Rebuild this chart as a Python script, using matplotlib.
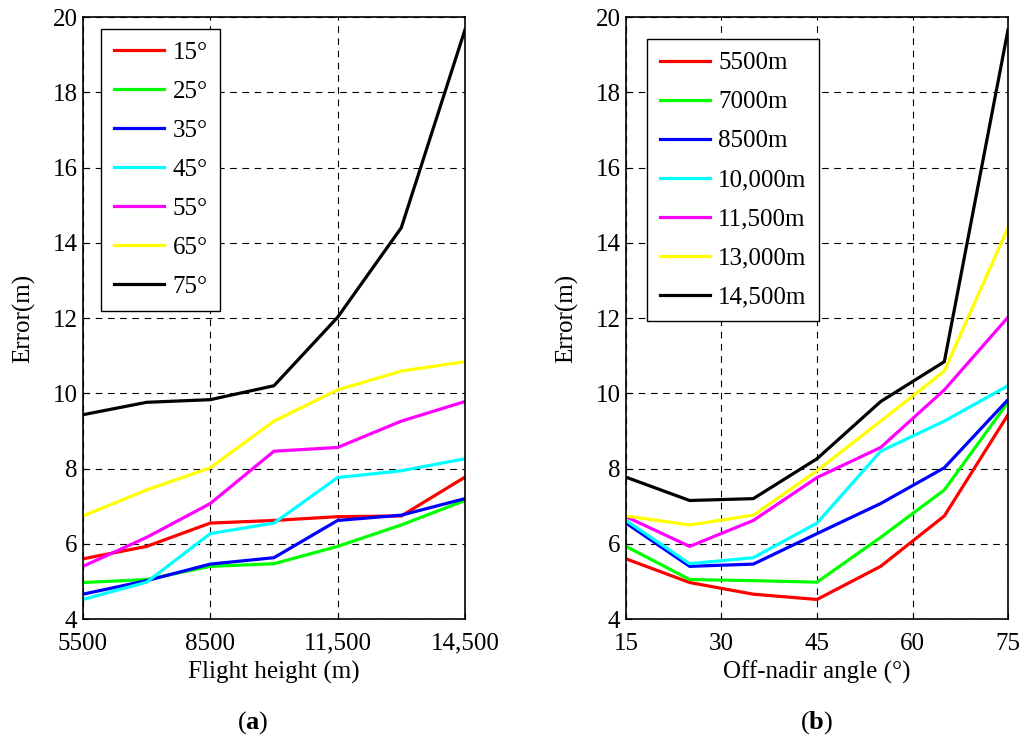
import numpy as np
import matplotlib
matplotlib.use("Agg")
import matplotlib.pyplot as plt

plt.rcParams['font.family'] = ['Liberation Serif', 'DejaVu Serif']
plt.rcParams['mathtext.fontset'] = 'custom'
plt.rcParams['mathtext.rm'] = 'Liberation Serif'
plt.rcParams['mathtext.bf'] = 'Liberation Serif:bold'

# flight heights (m) and off-nadir angles (deg)
heights = [5500, 7000, 8500, 10000, 11500, 13000, 14500]
angles = [15, 25, 35, 45, 55, 65, 75]

# error (m) per off-nadir angle, over flight heights
err_15 = [5.60, 5.93, 6.55, 6.62, 6.72, 6.74, 7.77]
err_25 = [4.97, 5.05, 5.40, 5.47, 5.93, 6.50, 7.15]
err_35 = [4.66, 5.02, 5.46, 5.63, 6.62, 6.76, 7.20]
err_45 = [4.52, 4.98, 6.27, 6.55, 7.76, 7.94, 8.26]
err_55 = [5.40, 6.17, 7.07, 8.46, 8.56, 9.26, 9.78]
err_65 = [6.74, 7.43, 8.02, 9.26, 10.09, 10.59, 10.84]
err_75 = [9.43, 9.76, 9.83, 10.20, 12.02, 14.40, 19.66]

angle_labels = ['15°', '25°', '35°', '45°', '55°', '65°', '75°']
height_labels = ['5500m', '7000m', '8500m', '10,000m', '11,500m', '13,000m', '14,500m']
colors = ['#ff0000', '#00ff00', '#0000ff', '#00ffff', '#ff00ff', '#ffff00', '#000000']

# rows = angle, columns = height
errs = np.array([err_15, err_25, err_35, err_45, err_55, err_65, err_75])

fig = plt.figure(figsize=(10.33, 7.46), dpi=100)
ax1 = fig.add_axes([0.0803, 0.1702, 0.3698, 0.807])
ax2 = fig.add_axes([0.606, 0.1702, 0.3698, 0.807])

# (a) error vs flight height
for i in range(len(angles)):
    ax1.plot(heights, errs[i], color=colors[i], lw=2.3, label=angle_labels[i])
ax1.set_xlim(5500, 14500)
ax1.set_xticks([5500, 8500, 11500, 14500])
ax1.set_xticklabels(['5500', '8500', '11,500', '14,500'])
ax1.set_xlabel('Flight height (m)', fontsize=18, labelpad=4)

# (b) error vs off-nadir angle
for j in range(len(heights)):
    ax2.plot(angles, errs[:, j], color=colors[j], lw=2.3, label=height_labels[j])
ax2.set_xlim(15, 75)
ax2.set_xticks([15, 30, 45, 60, 75])
ax2.set_xlabel('Off-nadir angle (°)', fontsize=18, labelpad=4)

for ax, leg_x, leg_y in [(ax1, 0.048, 0.98), (ax2, 0.055, 0.963)]:
    ax.set_ylim(4, 20)
    ax.set_yticks(range(4, 21, 2))
    ax.set_ylabel('Error(m)', fontsize=18)
    ax.yaxis.set_label_coords(-0.125, 0.5)
    ax.grid(True, color='black', linestyle=(0, (6, 5)), linewidth=0.8)
    ax.tick_params(direction='in', labelsize=18, length=4)
    ax.tick_params(axis='x', pad=10)
    ax.tick_params(axis='y', pad=4)
    for s in ax.spines.values():
        s.set_linewidth(1.2)
    leg = ax.legend(loc='upper left', bbox_to_anchor=(leg_x, leg_y), fontsize=18,
                    fancybox=False, framealpha=1, edgecolor='black',
                    handlelength=2.0, labelspacing=0.66, borderpad=0.5,
                    handletextpad=0.35, borderaxespad=0)
    leg.get_frame().set_linewidth(1.0)

fig.text(0.245, 0.032, r'($\mathbf{a}$)', ha='center', va='center', fontsize=19)
fig.text(0.79, 0.032, r'($\mathbf{b}$)', ha='center', va='center', fontsize=19)

fig.savefig('out.png', dpi=100)
